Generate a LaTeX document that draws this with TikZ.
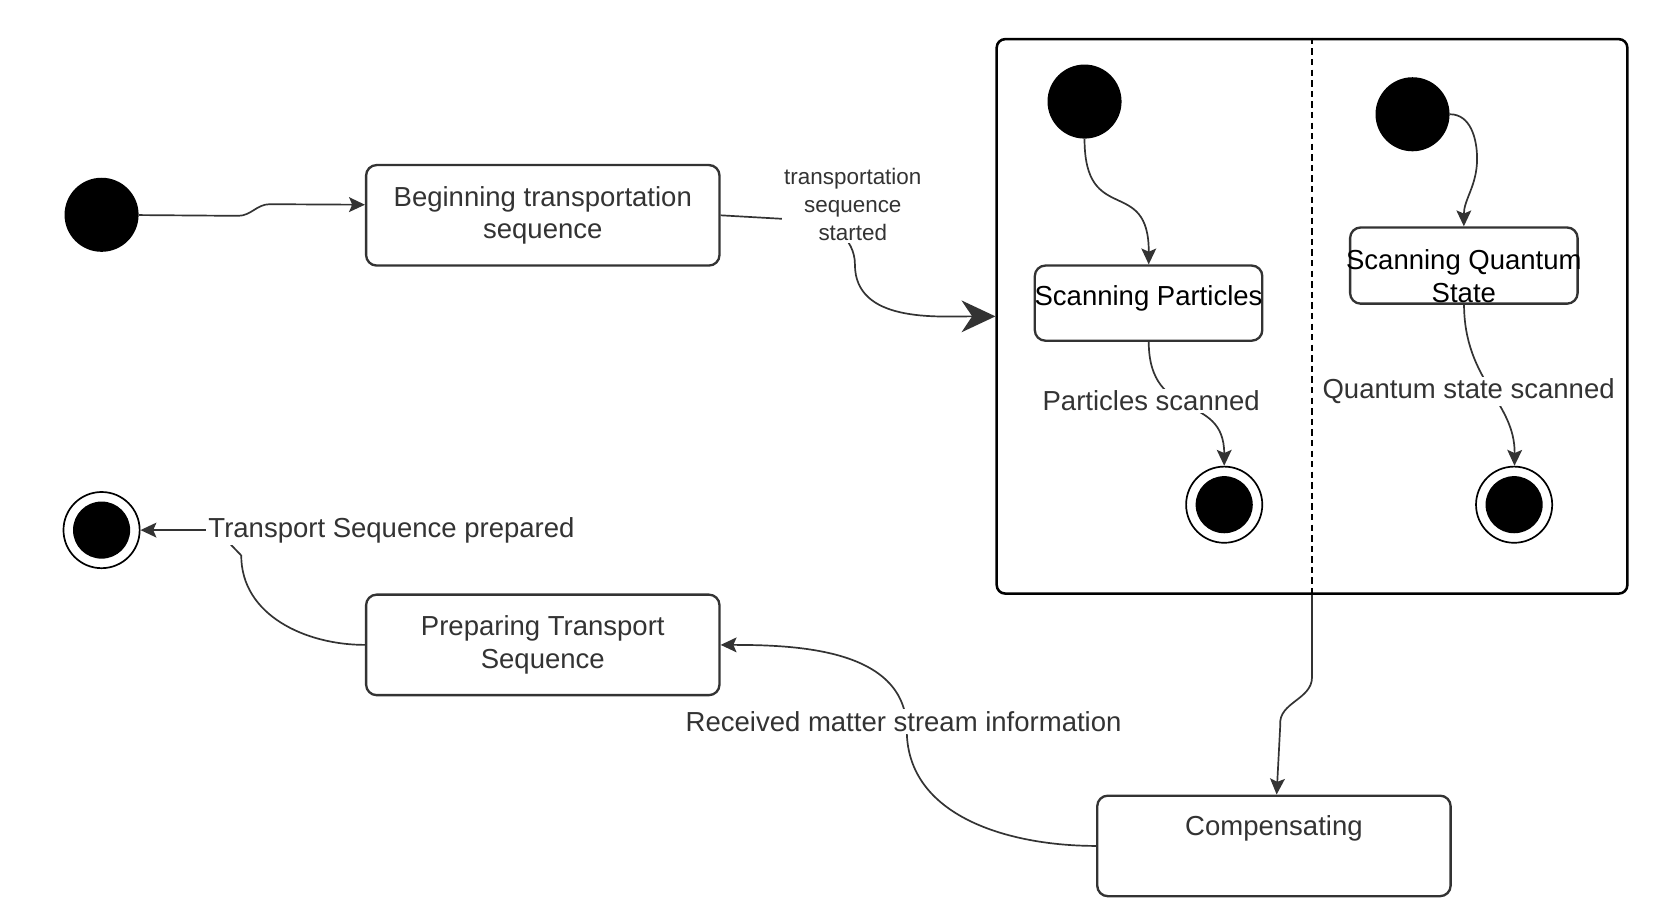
\documentclass[tikz,border=0pt]{standalone}
\usepackage{fontspec}
\setmainfont{Liberation Sans}
\usepackage{tikz}
\usetikzlibrary{arrows.meta}
\usetikzlibrary{positioning}

\definecolor{inkgray}{HTML}{333333}
\newcommand{\statefont}{\fontsize{13}{15.5}\selectfont}
\newcommand{\smallstatefont}{\fontsize{10.6}{13.25}\selectfont}

\begin{document}
\begin{tikzpicture}
  [x=0.5pt, y=-0.5pt,
   startdot/.style={circle, fill=black, minimum size=35pt, inner sep=0pt},
   enddot/.style={circle, draw=black, line width=0.8pt, minimum size=36pt, inner sep=0pt,
     path picture={\fill[black] (path picture bounding box.center) circle (13.5pt);}},
   statebox/.style={draw=inkgray, line width=1.1pt, rounded corners=5pt, fill=white,
     align=center, text=inkgray, font=\statefont, inner sep=0pt},
   boxtext/.style={align=center, inner sep=0pt, font=\statefont},
   edgelabel/.style={fill=white, inner sep=1pt, text=inkgray, font=\statefont},
   flow/.style={draw=inkgray, line width=0.8pt, -{Stealth[length=7.5pt, width=7pt, inset=1.5pt]}}]

  \path[use as bounding box, fill=white] (0,0) rectangle (1567,870);

  % outer sequence
  \node (start0) [startdot] at (96,203) {};
  \node (b1) [statebox, minimum width=167pt, minimum height=47.5pt] at (513,203.5) {Beginning transportation\\sequence};
  \node (cont) [draw, line width=1.2pt, rounded corners=4pt, minimum width=298pt, minimum height=262pt] at (1240,299) {};

  % scanning regions
  \node (startL) [startdot] at (1025,96) {};
  \node (sp) [statebox, minimum width=107.5pt, minimum height=35.5pt,
    label={[boxtext, text=black, yshift=2.25pt]center:Scanning Particles}] at (1085.5,286.5) {};
  \node (endL) [enddot] at (1157,477) {};
  \node (startR) [startdot] at (1335,108) {};
  \node (sq) [statebox, minimum width=107.5pt, minimum height=36pt,
    label={[boxtext, text=black, yshift=-5pt]center:{Scanning Quantum\\State}}] at (1383.5,251) {};
  \node (endR) [enddot] at (1431,477) {};

  \node (cs) [statebox, minimum width=167pt, minimum height=47.5pt,
    label={[boxtext, text=inkgray, yshift=8.25pt]center:Compensating}] at (1204,799.5) {};
  \node (prep) [statebox, minimum width=167pt, minimum height=47.5pt] at (513,609.5) {Preparing Transport\\Sequence};
  \node (end0) [enddot] at (96,501) {};

  \draw[black, line width=0.6pt, dash pattern=on 3pt off 2pt] (cont.north) -- (cont.south);

  % transitions
  \draw[flow] (start0) -- (225,204) to[out=0,in=180] (255,193) -- ([yshift=5pt]b1.west);
  \draw[flow, -{Stealth[length=16pt, width=15pt, inset=5pt]}] (b1.east) -- (760,208) to[out=0,in=90] (808,250) to[out=-90,in=180] (cont.west);
  \draw[flow] (startL) .. controls (1025,215) and (1086,165) .. (sp);
  \draw[flow] (sp) .. controls (1086,400) and (1157,370) .. (endL);
  \draw[flow] (startR) to[out=0,in=90] (1396,150) to[out=-90,in=90] (sq);
  \draw[flow] (sq) .. controls (1384,360) and (1432,380) .. (endR);
  \draw[flow] (cont) -- (1240,640) to[out=-90,in=95] (1210,685) -- (cs);
  \draw[flow] (cs.west) to[out=180,in=-90] (857,690) to[out=90,in=0] (prep);
  \draw[flow] (prep) to[out=180,in=-90] (228,525) -- (205,501) -- (end0);

  % labels
  \node (lblStart) [edgelabel, align=center, font=\smallstatefont] at (806,193) {transportation\\sequence\\started};
  \node (lblPs) [edgelabel] at (1088,379) {Particles scanned};
  \node (lblQs) [edgelabel] at (1388,370) {Quantum state scanned};
  \node (lblRecv) [edgelabel] at (854,682) {Received matter stream information};
  \node (lblPrep) [edgelabel] at (370,501) {Transport Sequence prepared};

\end{tikzpicture}
\end{document}
